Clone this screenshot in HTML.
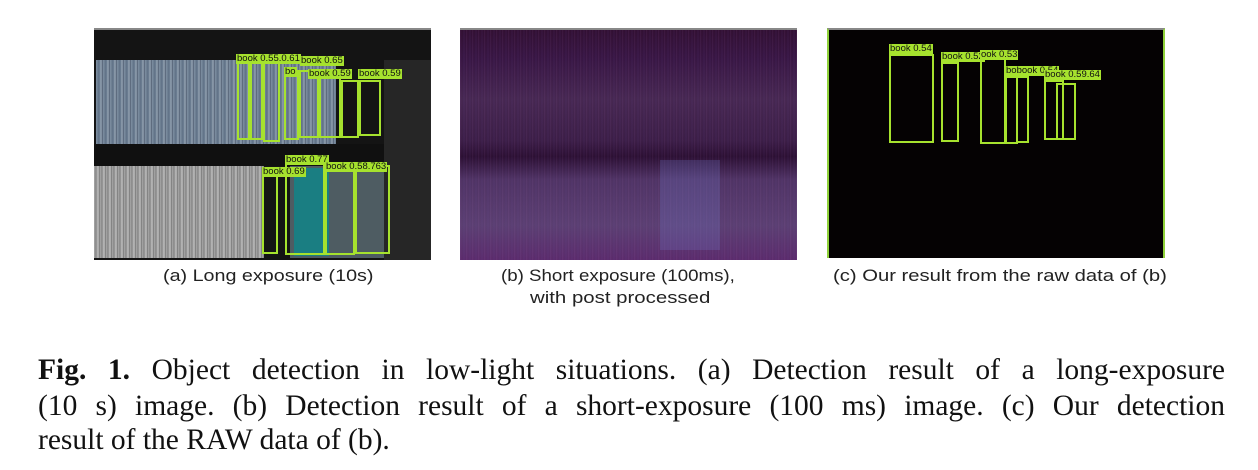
<!DOCTYPE html>
<html><head><meta charset="utf-8"><style>
body{margin:0;width:1258px;height:470px;background:#fff;position:relative;overflow:hidden;font-family:"Liberation Sans",sans-serif}
.abs{position:absolute}
.img{position:absolute;top:28px;height:230px;border-top:2px solid #888}
.bx{position:absolute;border:2px solid #a6e22e;box-sizing:border-box}
.lb{position:absolute;background:#a6e22e;color:#111;font-size:9.5px;line-height:10px;padding:0 1px;white-space:nowrap}
.sub{position:absolute;font-size:17px;color:#222;white-space:nowrap;transform-origin:0 0}
.cap{position:absolute;left:38px;width:1187px;font-family:"Liberation Serif",serif;font-size:29.5px;color:#111;white-space:nowrap}
.j{text-align:justify;text-align-last:justify}
</style></head><body>
<div class="img" style="left:94px;width:337px;background:#141414">
  <div class="abs" style="left:2px;top:30px;width:240px;height:84px;background:repeating-linear-gradient(90deg,#7f90a2 0,#5d6f84 3px,#93a2b2 5px,#4c5a6e 7px)"></div>
  <div class="abs" style="left:0;top:114px;width:330px;height:22px;background:#101010"></div>
  <div class="abs" style="left:0;top:136px;width:170px;height:92px;background:repeating-linear-gradient(90deg,#aaa 0,#858585 2px,#c0c0c0 4px,#707070 6px)"></div>
  <div class="abs" style="left:196px;top:136px;width:100px;height:92px;background:#4e5c62"></div>
  <div class="abs" style="left:200px;top:138px;width:35px;height:88px;background:#1a7e82"></div>
  <div class="abs" style="left:290px;top:30px;width:47px;height:200px;background:#262626"></div>
</div>
<div class="bx" style="left:237px;top:62px;width:13px;height:78px"></div>
<div class="bx" style="left:250px;top:62px;width:13px;height:78px"></div>
<div class="bx" style="left:263px;top:62px;width:17px;height:80px"></div>
<div class="bx" style="left:284px;top:70px;width:15px;height:70px"></div>
<div class="bx" style="left:299px;top:70px;width:20px;height:68px"></div>
<div class="bx" style="left:319px;top:72px;width:22px;height:66px"></div>
<div class="bx" style="left:341px;top:80px;width:18px;height:58px"></div>
<div class="bx" style="left:359px;top:80px;width:22px;height:56px"></div>
<div class="lb" style="left:236px;top:54px">book 0.55.0.61</div>
<div class="lb" style="left:300px;top:56px">book 0.65</div>
<div class="lb" style="left:284px;top:67px">bo</div>
<div class="lb" style="left:308px;top:69px">book 0.59</div>
<div class="lb" style="left:358px;top:69px">book 0.59</div>
<div class="bx" style="left:262px;top:172px;width:16px;height:82px"></div>
<div class="bx" style="left:285px;top:160px;width:40px;height:95px"></div>
<div class="bx" style="left:325px;top:165px;width:30px;height:90px"></div>
<div class="bx" style="left:355px;top:165px;width:35px;height:89px"></div>
<div class="lb" style="left:262px;top:167px">book 0.69</div>
<div class="lb" style="left:285px;top:155px">book 0.77</div>
<div class="lb" style="left:325px;top:162px">book 0.58.763</div>

<div class="img" style="left:460px;width:337px;background:repeating-linear-gradient(90deg,rgba(180,120,200,.12) 0,rgba(0,0,0,0) 2px,rgba(120,90,180,.1) 4px,rgba(0,0,0,0) 6px),linear-gradient(#300e30 0,#361440 12%,#45264f 30%,#3a1c44 48%,#2a0e30 55%,#4e3262 65%,#5a3e70 85%,#5a2a6a 100%)">
  <div class="abs" style="left:200px;top:130px;width:60px;height:90px;background:rgba(110,120,200,.25)"></div>
</div>
<div class="img" style="left:827px;width:338px;background:#050203;border-left:2px solid #8fd13a;border-right:2px solid #8fd13a;box-sizing:border-box"></div>
<div class="bx" style="left:889px;top:54px;width:45px;height:89px"></div>
<div class="bx" style="left:941px;top:62px;width:18px;height:80px"></div>
<div class="bx" style="left:980px;top:58px;width:26px;height:86px"></div>
<div class="bx" style="left:1005px;top:76px;width:13px;height:68px"></div>
<div class="bx" style="left:1016px;top:76px;width:13px;height:67px"></div>
<div class="bx" style="left:1044px;top:80px;width:20px;height:60px"></div>
<div class="bx" style="left:1056px;top:83px;width:20px;height:57px"></div>
<div class="lb" style="left:889px;top:44px">book 0.54</div>
<div class="lb" style="left:941px;top:52px">book 0.52</div>
<div class="lb" style="left:980px;top:50px">ook 0.53</div>
<div class="lb" style="left:1005px;top:66px">bobook 0.54</div>
<div class="lb" style="left:1044px;top:70px">book 0.59.64</div>

<div class="sub" style="left:163px;top:266px;transform:scaleX(1.16)">(a) Long exposure (10s)</div>
<div class="sub" style="left:501px;top:266px;transform:scaleX(1.1)">(b) Short exposure (100ms),</div>
<div class="sub" style="left:530px;top:288px;transform:scaleX(1.2)">with post processed</div>
<div class="sub" style="left:833px;top:266px;transform:scaleX(1.19)">(c) Our result from the raw data of (b)</div>

<div class="cap j" style="top:354px"><b>Fig. 1.</b> Object detection in low-light situations. (a) Detection result of a long-exposure</div>
<div class="cap j" style="top:390px">(10 s) image. (b) Detection result of a short-exposure (100 ms) image. (c) Our detection</div>
<div class="cap" style="top:424px">result of the RAW data of (b).</div>
</body></html>
